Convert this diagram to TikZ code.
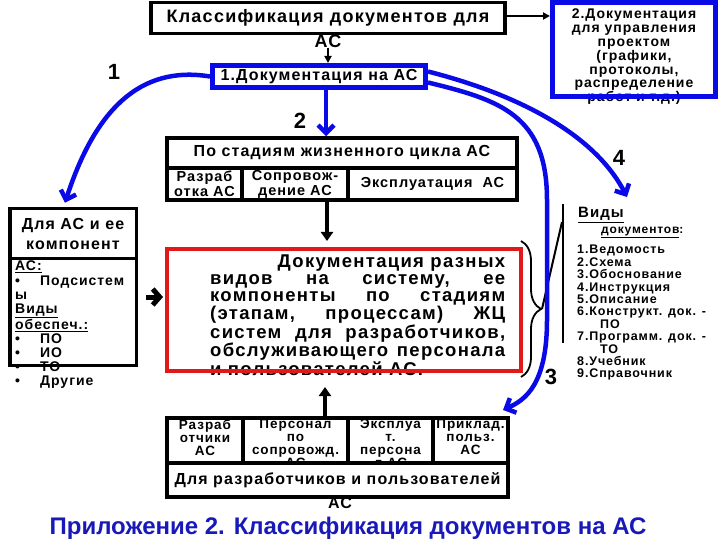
\documentclass[tikz,border=0pt]{standalone}
\usepackage{fontspec}
\setmainfont{Liberation Sans}
\newfontfamily\wf{Liberation Sans}[LetterSpace=7]
\usetikzlibrary{positioning,arrows.meta,decorations.pathreplacing}
\definecolor{arrowblue}{RGB}{10,10,230}
\definecolor{capblue}{RGB}{25,25,185}
\definecolor{boxred}{RGB}{225,25,25}
\newcommand{\fsz}[2]{\fontsize{#1}{#2}\selectfont}
\newcommand{\jl}[1]{\hbox to 295pt{#1}}

\begin{document}
\begin{tikzpicture}[x=1pt,y=-1pt,
    frame/.style={draw=black, line width=3.5pt, rectangle, inner sep=0pt},
    blueframe/.style={draw=arrowblue, line width=5pt, rectangle, inner sep=0pt},
    txt/.style={inner sep=0pt, font=\wf\bfseries\fsz{14.5}{15}, align=center},
    celltxt/.style={txt, anchor=north, font=\wf\bfseries\fsz{13.5}{13}},
    bluearrow/.style={draw=arrowblue, line width=4.5pt, -{Straight Barb[length=8pt,width=16pt]}},
    blackarrow/.style={draw=black, line width=2pt, -{Triangle[length=7pt,width=7pt]}},
    numlabel/.style={inner sep=0pt, font=\bfseries\fsz{22}{22}}]

    \useasboundingbox (0,0) rectangle (720,540);

    % top boxes
    \node[frame, txt, minimum width=354, minimum height=31, font=\wf\bfseries\fsz{18}{18}] (klass) at (328,18) {Классификация документов для};
    \node[txt, font=\wf\bfseries\fsz{18}{18}] (klassAC) at (328,41) {АС};
    \node[blueframe, txt, minimum width=213, minimum height=22, font=\wf\bfseries\fsz{16}{16}] (doc1) at (319,76.5) {1.Документация на АС};
    \node[txt, anchor=north, font=\wf\bfseries\fsz{14}{13.8}] (doc2txt) at (634,9) {2.Документация\\для управления\\проектом\\(графики,\\протоколы,\\распределение\\работ и т.д.)};
    \node[blueframe, minimum width=163, minimum height=94] (doc2) at (634,50) {};

    \draw[blackarrow] (klassAC.south) -- (klassAC.south |- doc1.north);
    \draw[blackarrow] ([yshift=2pt]klass.east) -- ([yshift=2pt]klass.east -| doc2.west);

    % stages
    \node[frame, txt, minimum width=350, minimum height=30, font=\wf\bfseries\fsz{16}{16}] (stage) at (342,153) {По стадиям жизненного цикла АС};
    \node[frame, txt, minimum width=75, minimum height=32] (stdev) at (204.5,184) {Разраб\\отка АС};
    \node[frame, txt, minimum width=106, minimum height=32] (stsup) at (295,184) {Сопровож-\\дение АС};
    \node[frame, txt, minimum width=169, minimum height=32] (stexp) at (432.5,184) {Эксплуатация~~АС};

    % centre box
    \node[inner sep=0pt, anchor=north west, align=left, font=\wf\bfseries\fsz{18.5}{16.8}] (redtxt) at (210,255)
        {\jl{\hfill Документация разных}\\
         \jl{видов\hfill на\hfill систему,\hfill ее}\\
         \jl{компоненты\hfill по\hfill стадиям}\\
         \jl{(этапам,\hfill процессам)\hfill ЖЦ}\\
         \jl{систем\hfill для\hfill разработчиков,}\\
         \jl{обслуживающего\hfill персонала}\\
         и пользователей АС.};
    \node[draw=boxred, line width=4pt, inner sep=0pt, minimum width=354, minimum height=122] (redbox) at (344,310) {};

    \draw[draw=black, line width=4pt, -{Triangle[length=9pt,width=12pt]}, shorten >=6pt] ([xshift=32pt]stsup.south) -- ([xshift=32pt]stsup.south |- redbox.north);

    % left box
    \node[frame, txt, minimum width=126.5, minimum height=50, font=\wf\bfseries\fsz{16}{20}] (lefthead) at (73,233.5) {Для АС и ее\\компонент};
    \node[inner sep=0pt, anchor=north west, align=left, font=\wf\bfseries\fsz{14}{14.1}] (lefttxt) at (15,261)
        {\underline{АС:}\\
         \makebox[25pt][l]{•}Подсистем\\
         ы\\
         \underline{Виды}\\
         \underline{обеспеч.:}\\
         \makebox[25pt][l]{•}ПО\\
         \makebox[25pt][l]{•}ИО\\
         \makebox[25pt][l]{•}ТО\\
         \makebox[25pt][l]{•}Другие};
    \node[frame, minimum width=126.5, minimum height=156.5] (leftbox) at (73,287) {};

    \draw[draw=black, line width=5pt, -{Straight Barb[length=7pt,width=16pt]}, shorten <=8pt, shorten >=2pt] ([yshift=-10pt]leftbox.east) -- ([yshift=-10pt]leftbox.east -| redbox.west);

    % document kinds
    \node[txt, anchor=north west, font=\wf\bfseries\fsz{15}{15}] (vidy) at (578,207) {\underline{Виды}};
    \node[txt, anchor=north west, font=\wf\bfseries\fsz{12}{13}] (vidydoc) at (601,227) {\underline{документов}:};
    \node[txt, anchor=north west, align=left, font=\wf\bfseries\fsz{12.5}{12.4}] (vidylist) at (577,245)
        {1.Ведомость\\2.Схема\\3.Обоснование\\4.Инструкция\\5.Описание\\6.Конструкт. док. -\\\hspace*{23pt}ПО\\7.Программ. док. -\\\hspace*{23pt}ТО\\8.Учебник\\9.Справочник};

    \coordinate (bartop) at (563,204);
    \coordinate (barbot) at (563,343);
    \coordinate (barjoin) at (562,222);
    \coordinate (bracetip) at (542,309);
    \draw[line width=2.5pt] (bartop) -- (barbot);
    \draw[line width=1.8pt, decorate, decoration={brace, amplitude=20pt}] (521,241) -- (521,377);
    \draw[line width=2pt] (bracetip) -- (barjoin);

    % bottom table
    \node[frame, fill=white, minimum width=76, minimum height=45] (bt1) at (205,440.5) {};
    \node[frame, fill=white, minimum width=105, minimum height=45] (bt2) at (295.5,440.5) {};
    \node[frame, fill=white, minimum width=85, minimum height=45] (bt3) at (390.5,440.5) {};
    \node[frame, fill=white, minimum width=75, minimum height=45] (bt4) at (470.5,440.5) {};
    \node[celltxt] (bt1txt) at ([yshift=-3pt]bt1.north) {Разраб\\отчики\\АС};
    \node[celltxt] (bt2txt) at ([yshift=-3pt]bt2.north) {Персонал\\по\\сопровожд.\\АС};
    \node[celltxt] (bt3txt) at ([yshift=-3pt]bt3.north) {Эксплуа\\т.\\персона\\л АС};
    \node[celltxt] (bt4txt) at ([yshift=-3pt]bt4.north) {Приклад.\\польз.\\АС};
    \node[frame, fill=white, txt, minimum width=341, minimum height=34, font=\wf\bfseries\fsz{16}{16}] (btall) at (337.5,480) {Для разработчиков и пользователей};
    \node[txt, font=\wf\bfseries\fsz{16}{16}] (btallAC) at (340,503) {АС};

    \draw[draw=black, line width=4pt, -{Triangle[length=9pt,width=12pt]}, shorten >=14pt] ([xshift=29.5pt]bt2.north) -- ([xshift=29.5pt]bt2.north |- redbox.south);

    % blue connectors
    \coordinate (c3end) at (503,410);
    \coordinate (c4end) at (627,197);
    \draw[bluearrow] (doc1.west) .. controls (140,65) and (95,110) .. ([shift={(-8,-4)}]lefthead.north);
    \draw[bluearrow] ([xshift=7pt]doc1.south) -- ([xshift=7pt]doc1.south |- stage.north);
    \draw[bluearrow] ([yshift=-6pt]doc1.east) .. controls (500,100) and (547,115) .. (547,200) -- (547,320) .. controls (547,385) and (525,400) .. (c3end);
    \draw[bluearrow] ([yshift=5pt]doc1.east) .. controls (520,95) and (595,135) .. (c4end);

    \node[numlabel] (lab1) at (114,72) {1};
    \node[numlabel] (lab2) at (300,121) {2};
    \node[numlabel] (lab3) at (551,377) {3};
    \node[numlabel] (lab4) at (619,158) {4};

    % caption
    \node[font=\bfseries\fsz{24}{24}, text=capblue, inner sep=0pt] (caption) at (348,528) {Приложение 2. Классификация документов на АС};
\end{tikzpicture}
\end{document}
